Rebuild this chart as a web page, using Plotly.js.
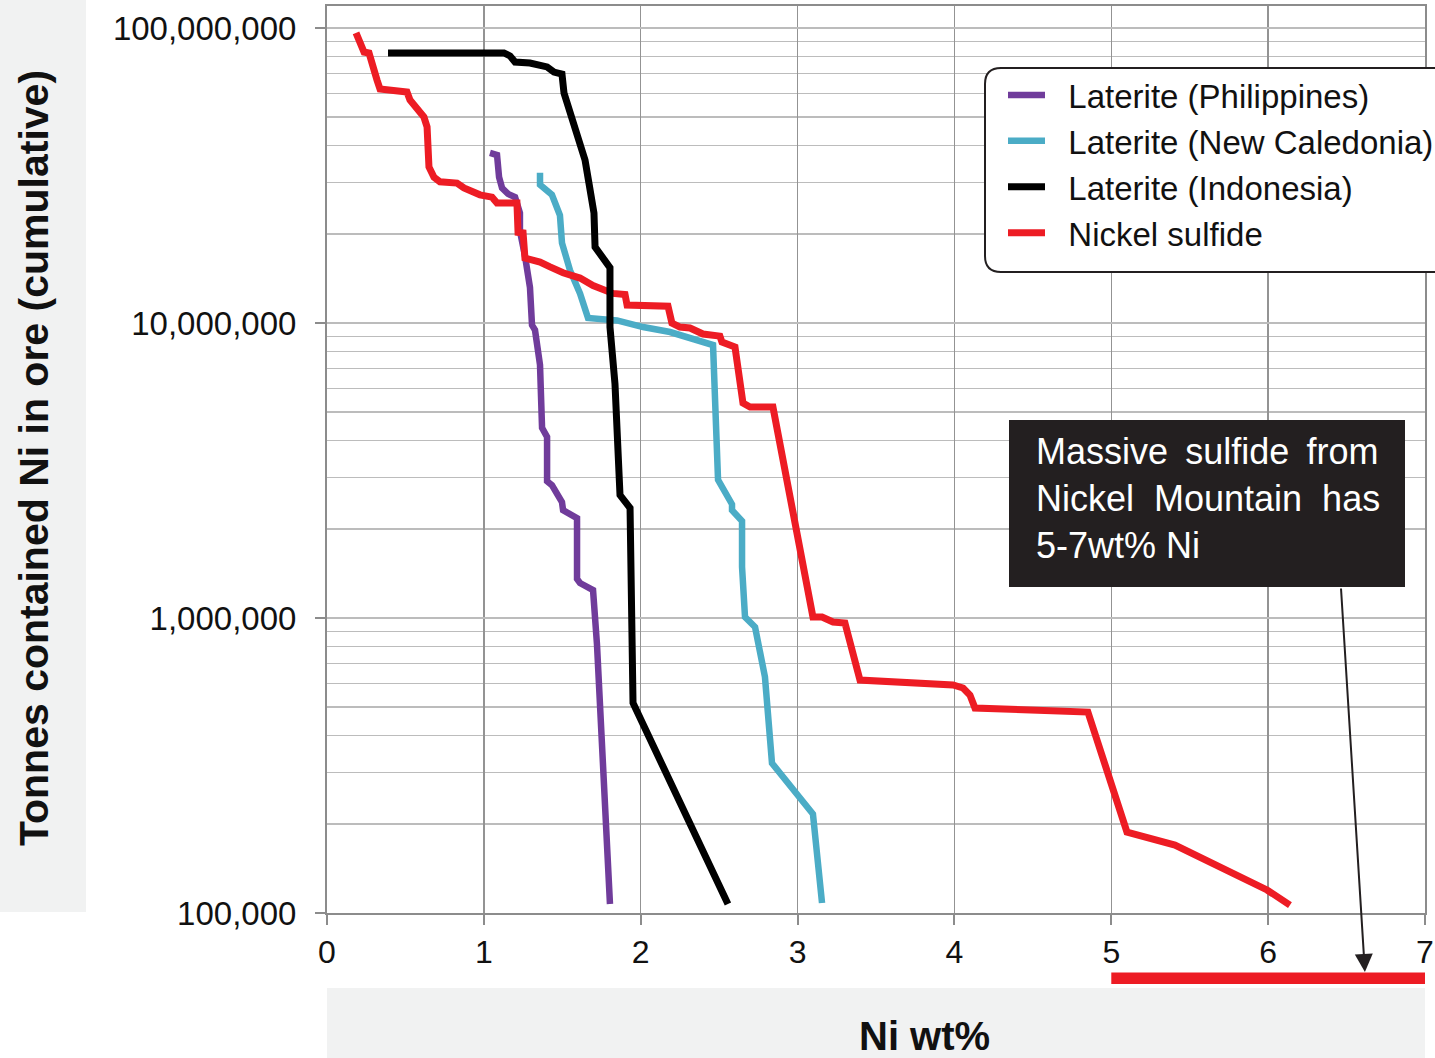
<!DOCTYPE html>
<html>
<head>
<meta charset="utf-8">
<script src="https://cdn.plot.ly/plotly-3.0.1.min.js"></script>
<style>html,body{margin:0;padding:0;background:#fff;}#chart{width:1435px;height:1058px;}</style>
</head>
<body>
<div id="chart"></div>
<script>
// ---- Data ----
const seriesNames = ["Laterite (Philippines)", "Laterite (New Caledonia)", "Laterite (Indonesia)", "Nickel sulfide"];

const philX = [1.039,1.084,1.097,1.116,1.154,1.199,1.230,1.230,1.262,1.294,1.307,1.326,1.358,1.371,1.403,1.403,1.434,1.498,1.505,1.594,1.594,1.613,1.696,1.721,1.804];
const philY = [37.7e6,37.1e6,31.2e6,28.7e6,27.4e6,26.7e6,23.6e6,20.5e6,16.9e6,13.2e6,9.84e6,9.47e6,7.21e6,4.41e6,4.11e6,2.91e6,2.82e6,2.47e6,2.32e6,2.18e6,1.356e6,1.314e6,1.244e6,0.817e6,0.1073e6];

const ncalX = [1.358,1.358,1.434,1.485,1.498,1.549,1.613,1.664,1.849,2.015,2.187,2.295,2.365,2.461,2.493,2.550,2.582,2.582,2.646,2.646,2.665,2.729,2.792,2.837,3.098,3.156];
const ncalY = [32.3e6,29.4e6,27.2e6,23.2e6,18.7e6,15.1e6,12.6e6,10.4e6,10.2e6,9.69e6,9.32e6,8.96e6,8.62e6,8.42e6,2.94e6,2.61e6,2.43e6,2.32e6,2.13e6,1.489e6,1.008e6,0.932e6,0.631e6,0.322e6,0.2166e6,0.1081e6];

const indoX = [0.389,1.128,1.167,1.199,1.294,1.403,1.447,1.498,1.511,1.543,1.575,1.613,1.645,1.670,1.702,1.709,1.766,1.804,1.804,1.836,1.868,1.932,1.951,2.556];
const indoY = [82.3e6,82.3e6,80.4e6,76.7e6,76.1e6,73.8e6,70.9e6,69.8e6,60.2e6,52.7e6,46.2e6,40.8e6,35.7e6,29.8e6,23.6e6,18.1e6,16.6e6,15.4e6,9.69e6,6.21e6,2.61e6,2.36e6,0.515e6,0.1073e6];

const sulfX = [0.185,0.236,0.268,0.300,0.319,0.338,0.510,0.529,0.574,0.618,0.638,0.650,0.682,0.720,0.829,0.873,0.975,1.052,1.084,1.211,1.218,1.250,1.262,1.358,1.422,1.505,1.613,1.696,1.823,1.900,1.913,2.174,2.199,2.250,2.314,2.397,2.505,2.518,2.601,2.652,2.697,2.843,3.098,3.156,3.226,3.302,3.398,3.991,4.055,4.099,4.131,4.851,5.100,5.406,5.993,6.139];
const sulfY = [96.2e6,82.9e6,82.3e6,73.8e6,66.6e6,62.1e6,60.7e6,57.0e6,53.5e6,49.9e6,46.2e6,33.8e6,31.2e6,30.1e6,29.8e6,28.7e6,27.2e6,26.7e6,25.5e6,25.5e6,20.3e6,20.2e6,16.6e6,16.1e6,15.5e6,14.8e6,14.2e6,13.4e6,12.6e6,12.5e6,11.5e6,11.4e6,10.0e6,9.69e6,9.62e6,9.18e6,9.03e6,8.62e6,8.29e6,5.35e6,5.19e6,5.19e6,1.008e6,1.008e6,0.969e6,0.962e6,0.616e6,0.593e6,0.579e6,0.548e6,0.495e6,0.480e6,0.188e6,0.170e6,0.1197e6,0.1064e6];

const xTickVals = [0,1,2,3,4,5,6,7];
const yTickVals = [1e5, 1e6, 1e7, 1e8];
const yTickText = ["100,000", "1,000,000", "10,000,000", "100,000,000"];

const highlightRange = [5, 7];          // Massive sulfide range (wt% Ni)
const arrowHeadX = 6.617;
const arrowTailX = 6.464;

// ---- Styling ----
const FONT = "Liberation Sans, Arial, Helvetica, sans-serif";
const colors = {phil: "#703c9b", ncal: "#4bacc6", indo: "#000000", sulf: "#ed1c24"};
const pad = "\u00a0\u00a0";

// minor gridlines at 2..9 of each decade
const minorVals = [];
for (let d = 1e5; d < 1e8; d *= 10) for (let k = 2; k <= 9; k++) minorVals.push(k * d);

const traces = [
  {x: philX, y: philY, name: pad + seriesNames[0], mode: "lines", line: {color: colors.phil, width: 6.5}, legendrank: 1},
  {x: ncalX, y: ncalY, name: pad + seriesNames[1], mode: "lines", line: {color: colors.ncal, width: 6.5}, legendrank: 2},
  {x: sulfX, y: sulfY, name: pad + seriesNames[3], mode: "lines", line: {color: colors.sulf, width: 7}, legendrank: 4},
  {x: indoX, y: indoY, name: pad + seriesNames[2], mode: "lines", line: {color: colors.indo, width: 7}, legendrank: 3}
];

// paper helpers (plot area: x 327..1425 px, y 6..913 px)
const L = 327, R = 1425, T = 6, B = 913;
const px = v => (v - L) / (R - L);
const py = v => (B - v) / (B - T);

function roundRect(x0, y0, x1, y1, r) {
  const rx = r / (R - L), ry = r / (B - T);
  const X0 = px(x0), X1 = px(x1), Y0 = py(y1), Y1 = py(y0);
  return `M ${X0+rx},${Y1} L ${X1-rx},${Y1} Q ${X1},${Y1} ${X1},${Y1-ry} L ${X1},${Y0+ry} Q ${X1},${Y0} ${X1-rx},${Y0} L ${X0+rx},${Y0} Q ${X0},${Y0} ${X0},${Y0+ry} L ${X0},${Y1-ry} Q ${X0},${Y1} ${X0+rx},${Y1} Z`;
}

const layout = {
  width: 1435, height: 1058,
  margin: {l: L, r: 1435 - R, t: T, b: 1058 - B, autoexpand: false},
  paper_bgcolor: "#ffffff", plot_bgcolor: "#ffffff",
  font: {family: FONT, color: "#111111"},
  showlegend: true,
  xaxis: {
    range: [0, 7], tickmode: "array", tickvals: xTickVals,
    ticks: "outside", ticklen: 10, tickwidth: 2, tickcolor: "#8c8c8c",
    showgrid: true, gridcolor: "#939393", gridwidth: 1.5,
    showline: true, linecolor: "#8c8c8c", linewidth: 2, mirror: true,
    zeroline: false, tickfont: {size: 32, family: FONT, color: "#111"}
  },
  yaxis: {
    type: "log", range: [5, 8.0746], tickmode: "array", tickvals: yTickVals, ticktext: yTickText,
    ticks: "outside", ticklen: 10, tickwidth: 2, tickcolor: "#8c8c8c", ticklabelstandoff: 12,
    showgrid: true, gridcolor: "#bcbcbc", gridwidth: 1.5,
    minor: {tickmode: "array", tickvals: minorVals, showgrid: true, gridcolor: "#bcbcbc", gridwidth: 1.5, ticks: ""},
    showline: true, linecolor: "#8c8c8c", linewidth: 2, mirror: true,
    zeroline: false, tickfont: {size: 33, family: FONT, color: "#111"}
  },
  legend: {
    x: px(1003), y: py(67), xanchor: "left", yanchor: "top",
    bgcolor: "rgba(0,0,0,0)", borderwidth: 0, itemwidth: 37,
    font: {size: 33, family: FONT, color: "#111"}
  },
  shapes: [
    {type: "rect", xref: "paper", yref: "paper", x0: px(0), x1: px(86), y0: py(912), y1: py(0),
     fillcolor: "#f1f2f2", line: {width: 0}, layer: "below"},
    {type: "rect", xref: "paper", yref: "paper", x0: px(327), x1: px(1425), y0: py(1058), y1: py(988),
     fillcolor: "#f1f2f2", line: {width: 0}, layer: "below"},
    {type: "rect", xref: "x", yref: "paper", x0: highlightRange[0], x1: highlightRange[1], y0: py(984), y1: py(972.5),
     fillcolor: colors.sulf, line: {width: 0}},
    {type: "path", xref: "paper", yref: "paper", path: roundRect(985, 68, 1460, 272, 16),
     fillcolor: "#ffffff", line: {color: "#231f20", width: 2}, layer: "above"},
    {type: "rect", xref: "paper", yref: "paper", x0: px(1009), x1: px(1405), y0: py(587), y1: py(420),
     fillcolor: "#231f20", line: {width: 0}, layer: "above"}
  ],
  annotations: [
    {text: "<b>Tonnes contained Ni in ore (cumulative)</b>", textangle: -90, xref: "paper", yref: "paper",
     x: px(34), y: py(458), xanchor: "center", yanchor: "middle", showarrow: false,
     font: {size: 41, family: FONT, color: "#111"}},
    {text: "<b>Ni wt%</b>", xref: "paper", yref: "paper", x: px(924), y: py(1036),
     xanchor: "center", yanchor: "middle", showarrow: false, font: {size: 40, family: FONT, color: "#111"}},
    {text: "Massive\u2009 sulfide\u2009 from<br>Nickel\u00a0\u00a0Mountain\u00a0\u00a0has<br>5-7wt% Ni",
     xref: "paper", yref: "paper", x: px(1034), y: py(498), xanchor: "left", yanchor: "middle", align: "left",
     showarrow: false, font: {size: 36, family: FONT, color: "#ffffff"}},
    {text: "", xref: "x", yref: "paper", x: arrowHeadX, y: py(972),
     axref: "x", ayref: "paper", ax: arrowTailX, ay: py(587),
     showarrow: true, arrowhead: 2, arrowsize: 1.8, arrowwidth: 2, arrowcolor: "#231f20", standoff: 0}
  ]
};

Plotly.newPlot("chart", traces, layout, {displayModeBar: false, staticPlot: true});
</script>
</body>
</html>
